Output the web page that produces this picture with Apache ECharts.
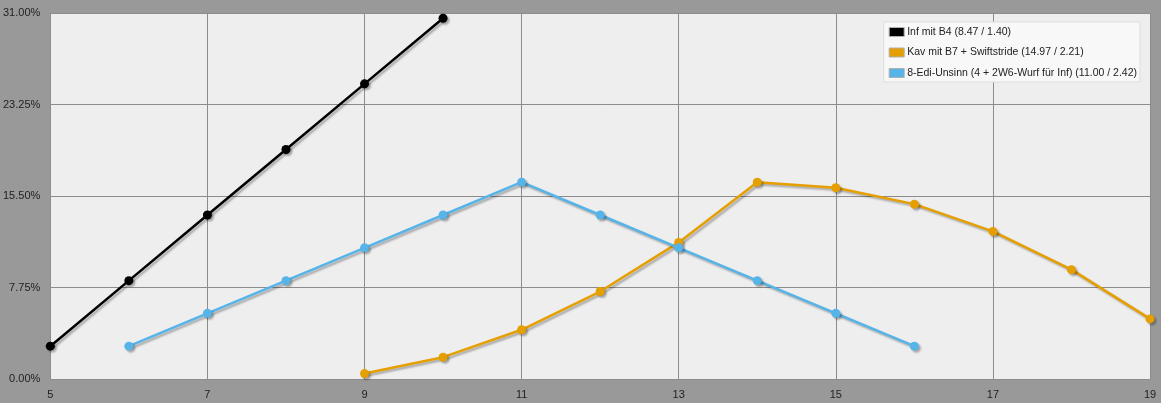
<!DOCTYPE html>
<html><head><meta charset="utf-8">
<script src="https://cdn.jsdelivr.net/npm/echarts@6/dist/echarts.min.js"></script>
<style>html,body{margin:0;padding:0;background:#999999}#c{width:1161px;height:403px}</style>
</head><body><div id="c"></div>
<script>
const seriesNames = ['Inf mit B4 (8.47 / 1.40)', 'Kav mit B7 + Swiftstride (14.97 / 2.21)', '8-Edi-Unsinn (4 + 2W6-Wurf für Inf) (11.00 / 2.42)'];
const infX = [5, 6, 7, 8, 9, 10];
const infY = [2.78, 8.33, 13.89, 19.44, 25.00, 30.56];
const kavX = [9, 10, 11, 12, 13, 14, 15, 16, 17, 18, 19];
const kavY = [0.46, 1.85, 4.17, 7.41, 11.57, 16.67, 16.20, 14.81, 12.50, 9.26, 5.09];
const ediX = [6, 7, 8, 9, 10, 11, 12, 13, 14, 15, 16];
const ediY = [2.78, 5.56, 8.33, 11.11, 13.89, 16.67, 13.89, 11.11, 8.33, 5.56, 2.78];
const colors = ['#000000', '#e69f00', '#56b4e9'];

const chart = echarts.init(document.getElementById('c'), null, {renderer: 'canvas'});
const font = '"Liberation Sans", Arial, sans-serif';
function mk(name, xs, ys, color) {
  return {
    name, type: 'line', data: xs.map((x, i) => [x, ys[i]]),
    symbol: 'circle', symbolSize: 9, clip: true,
    lineStyle: {color, width: 2.5, shadowColor: 'rgba(0,0,0,0.3)', shadowBlur: 2, shadowOffsetX: 2, shadowOffsetY: 2},
    itemStyle: {color, shadowColor: 'rgba(0,0,0,0.3)', shadowBlur: 2, shadowOffsetX: 2, shadowOffsetY: 2},
    emphasis: {disabled: true}, animation: false
  };
}
chart.setOption({
  backgroundColor: '#999999',
  animation: false,
  textStyle: {fontFamily: font},
  grid: {left: 50, right: 11, top: 13, bottom: 24, show: true, backgroundColor: '#eeeeee', borderWidth: 0},
  xAxis: {
    type: 'value', min: 5, max: 19, interval: 2,
    axisLine: {show: false}, axisTick: {show: false},
    splitLine: {show: true, lineStyle: {color: '#8c8c8c', width: 1}},
    axisLabel: {color: '#222', fontSize: 11, margin: 10, fontFamily: font}
  },
  yAxis: {
    type: 'value', min: 0, max: 31, interval: 7.75,
    axisLine: {show: false}, axisTick: {show: false},
    splitLine: {show: true, lineStyle: {color: '#8c8c8c', width: 1}},
    axisLabel: {color: '#222', fontSize: 11, margin: 10, fontFamily: font, formatter: v => v.toFixed(2) + '%'}
  },
  legend: {
    orient: 'vertical', right: 21, top: 22,
    backgroundColor: '#f8f8f8', borderColor: '#dddddd', borderWidth: 1,
    padding: [4, 3, 3, 5], itemGap: 8.5, itemWidth: 15, itemHeight: 9,
    icon: 'rect', selectedMode: false,
    itemStyle: {borderColor: '#b0b0b0', borderWidth: 1},
    textStyle: {color: '#222', fontSize: 10.5, lineHeight: 12, fontFamily: font, padding: [0, 0, 0, -2]},
    data: seriesNames
  },
  series: [
    mk(seriesNames[0], infX, infY, colors[0]),
    mk(seriesNames[1], kavX, kavY, colors[1]),
    mk(seriesNames[2], ediX, ediY, colors[2])
  ]
});
</script></body></html>
